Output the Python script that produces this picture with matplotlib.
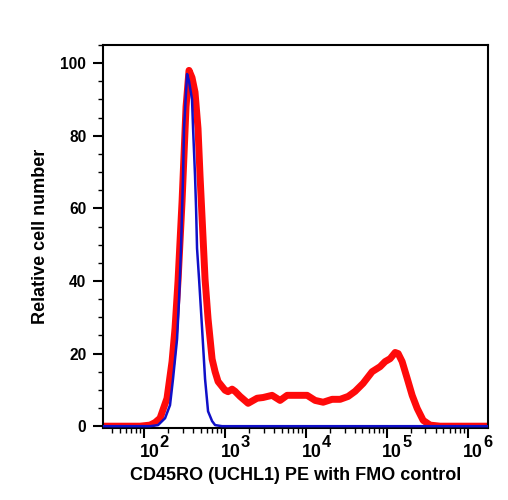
import numpy as np
import matplotlib
matplotlib.use("Agg")
import matplotlib.pyplot as plt
from matplotlib.ticker import FixedLocator, NullFormatter, MultipleLocator

plt.rcParams['font.family'] = ['Liberation Sans', 'DejaVu Sans']
plt.rcParams['font.weight'] = 'bold'

# Sample (red) histogram: log10 of fluorescence and relative cell number
red_log10 = [1.49, 1.95, 2.074, 2.136, 2.198, 2.284, 2.346, 2.383, 2.420, 2.470, 2.519,
             2.556, 2.593, 2.630, 2.667, 2.692, 2.729, 2.754, 2.791, 2.841, 2.878,
             2.915, 3.001, 3.038, 3.088, 3.125, 3.187, 3.286, 3.397, 3.471, 3.582,
             3.681, 3.768, 3.891, 4.015, 4.114, 4.213, 4.324, 4.423, 4.522, 4.608,
             4.707, 4.818, 4.917, 4.979, 5.041, 5.103, 5.140, 5.189, 5.251, 5.313,
             5.375, 5.449, 5.535, 5.659, 6.25]
red_values = [0, 0, 0.3, 1.0, 2.2, 7.7, 17.8, 27, 40, 62, 88,
              98, 96, 92, 82, 69, 52, 40.5, 29.6, 18.5, 15,
              12.3, 9.9, 9.5, 10.2, 9.6, 8.2, 6.3, 7.7, 7.9, 8.5,
              7.1, 8.5, 8.5, 8.5, 7.1, 6.6, 7.4, 7.4, 8.2, 9.6,
              11.8, 15, 16.4, 17.8, 18.6, 20.3, 20, 17.8, 13.2, 8.5,
              4.9, 1.6, 0.3, 0, 0]

# FMO control (blue) histogram
blue_log10 = [1.49, 2.074, 2.173, 2.260, 2.321, 2.358, 2.408, 2.433, 2.457, 2.482,
              2.494, 2.519, 2.532, 2.556, 2.593, 2.606, 2.630, 2.643, 2.655, 2.680,
              2.717, 2.754, 2.791, 2.841, 2.878, 2.964, 6.25]
blue_values = [0, 0, 0.3, 2.2, 5.8, 13, 24, 35, 49, 69,
               82, 92, 97, 95, 90, 82, 69, 60, 49, 40.5,
               27, 13, 4.1, 1.4, 0.3, 0, 0]

y_ticks = [0, 20, 40, 60, 80, 100]
x_decades = [2, 3, 4, 5, 6]

DPI = 100
PX = 72.0 / DPI  # points per pixel

fig = plt.figure(figsize=(5.08, 5.0), dpi=DPI)
ax = fig.add_axes([103/508, 1-428/500, (488-103)/508, (428-45)/500])

ax.plot(10**np.array(red_log10), red_values, color='#ff0a0a', lw=5.0,
        solid_joinstyle='round', solid_capstyle='round', zorder=2)
ax.plot(10**np.array(blue_log10), blue_values, color='#1010c8', lw=1.8, zorder=3)

ax.set_xscale('log')
ax.set_xlim(10**1.493, 10**6.25)
ax.set_ylim(-0.5, 105)

ax.xaxis.set_major_locator(FixedLocator([10.0**d for d in x_decades]))
ax.xaxis.set_major_formatter(NullFormatter())
minors = [m * 10.0**d for d in range(1, 7) for m in range(2, 10)]
ax.xaxis.set_minor_locator(FixedLocator(minors))
ax.xaxis.set_minor_formatter(NullFormatter())

ax.yaxis.set_major_locator(FixedLocator(y_ticks))
ax.yaxis.set_minor_locator(MultipleLocator(5))

ax.tick_params(which='major', length=7, width=1.5, direction='out')
ax.tick_params(which='minor', length=3.5, width=1.0, direction='out')
ax.tick_params(axis='y', which='major', labelsize=11.2, pad=5)
for lbl in ax.get_yticklabels():
    lbl.set_fontweight('bold')

# decade labels "10" with large superscript exponent
for d in x_decades:
    ax.annotate('10', xy=(10.0**d, 0), xycoords=('data', 'axes fraction'),
                xytext=(-4.5 * PX, -29.3 * PX), textcoords='offset points',
                ha='left', va='baseline', fontsize=12.8, fontweight='bold',
                annotation_clip=False)
    ax.annotate(str(d), xy=(10.0**d, 0), xycoords=('data', 'axes fraction'),
                xytext=(15.5 * PX, -19.0 * PX), textcoords='offset points',
                ha='left', va='baseline', fontsize=11.8, fontweight='bold',
                annotation_clip=False)

for s in ax.spines.values():
    s.set_linewidth(1.5)

ax.set_ylabel('Relative cell number', fontsize=13, fontweight='bold', labelpad=8)
fig.text((103 + 488) / 2 / 508, 1 - 479.5 / 500, 'CD45RO (UCHL1) PE with FMO control',
         fontsize=13, fontweight='bold', ha='center', va='baseline')

fig.savefig('out.png', dpi=DPI)
